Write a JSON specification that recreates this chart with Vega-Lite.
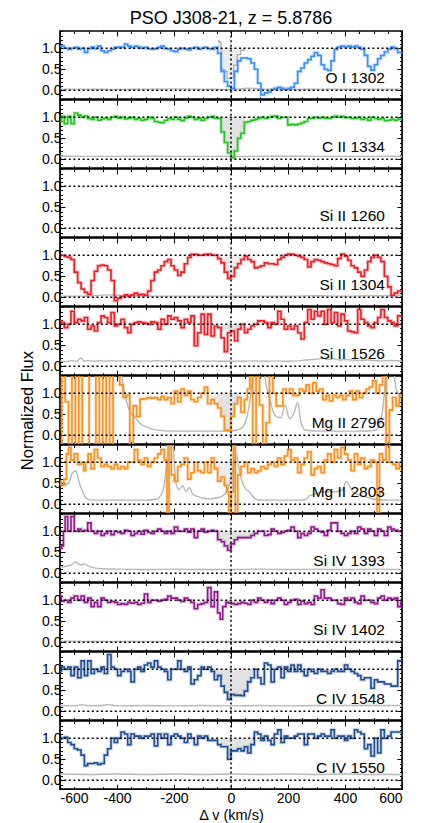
{
"$schema":"https://vega.github.io/schema/vega-lite/v6.json",
"padding":{"left":18,"top":9,"right":4,"bottom":0},
"spacing":0,
"bounds":"flush",
"config":{"font":"Liberation Sans","view":{"stroke":"black","strokeWidth":1.7},
"axis":{"domain":false,"grid":false,"labelFont":"Liberation Sans","labelFontSize":14,"labelColor":"black","tickColor":"black","tickWidth":1,"titleFont":"Liberation Sans","titleFontWeight":"normal","titleColor":"black"}},
"datasets":{
"lv":[{"v":0,"y":0},{"v":0,"y":1}],
"lv0":[{"v":0,"y":0}],
"f1":[{"v":-600,"y":1.05},{"v":-591,"y":1.05},{"v":-579,"y":1.0},{"v":-567,"y":0.97},{"v":-556,"y":1.0},{"v":-544,"y":1.02},{"v":-532,"y":0.98},{"v":-520,"y":1.0},{"v":-509,"y":0.9},{"v":-497,"y":0.99},{"v":-485,"y":1.03},{"v":-474,"y":0.99},{"v":-462,"y":1.05},{"v":-450,"y":0.94},{"v":-439,"y":0.9},{"v":-427,"y":0.94},{"v":-415,"y":0.98},{"v":-404,"y":1.02},{"v":-392,"y":1.03},{"v":-380,"y":1.02},{"v":-368,"y":1.1},{"v":-357,"y":1.05},{"v":-345,"y":1.02},{"v":-333,"y":1.05},{"v":-322,"y":1.03},{"v":-310,"y":1.0},{"v":-298,"y":1.02},{"v":-287,"y":0.99},{"v":-275,"y":0.98},{"v":-263,"y":0.99},{"v":-251,"y":1.02},{"v":-240,"y":1.05},{"v":-228,"y":0.99},{"v":-216,"y":0.98},{"v":-205,"y":0.94},{"v":-193,"y":0.92},{"v":-181,"y":0.98},{"v":-170,"y":1.0},{"v":-158,"y":0.98},{"v":-146,"y":0.96},{"v":-135,"y":1.0},{"v":-123,"y":1.02},{"v":-111,"y":0.98},{"v":-99,"y":1.0},{"v":-88,"y":1.02},{"v":-76,"y":0.99},{"v":-64,"y":0.98},{"v":-53,"y":1.02},{"v":-41,"y":0.88},{"v":-29,"y":0.45},{"v":-18,"y":0.21},{"v":-6,"y":0.1},{"v":6,"y":0.05},{"v":18,"y":0.45},{"v":29,"y":0.7},{"v":41,"y":0.77},{"v":53,"y":0.77},{"v":64,"y":0.75},{"v":76,"y":0.65},{"v":88,"y":0.5},{"v":99,"y":0.17},{"v":111,"y":-0.11},{"v":123,"y":-0.06},{"v":135,"y":-0.04},{"v":146,"y":0.02},{"v":158,"y":0.05},{"v":170,"y":0.07},{"v":181,"y":0.05},{"v":193,"y":0.02},{"v":205,"y":0.05},{"v":216,"y":0.07},{"v":228,"y":0.17},{"v":240,"y":0.45},{"v":251,"y":0.53},{"v":263,"y":0.65},{"v":275,"y":0.73},{"v":287,"y":0.81},{"v":298,"y":0.9},{"v":310,"y":0.83},{"v":322,"y":0.61},{"v":333,"y":0.5},{"v":345,"y":0.47},{"v":357,"y":0.7},{"v":368,"y":0.97},{"v":380,"y":1.03},{"v":392,"y":1.05},{"v":404,"y":1.03},{"v":415,"y":1.05},{"v":427,"y":1.03},{"v":439,"y":1.05},{"v":450,"y":1.02},{"v":462,"y":0.98},{"v":474,"y":0.83},{"v":485,"y":0.57},{"v":497,"y":0.48},{"v":509,"y":0.61},{"v":520,"y":0.75},{"v":532,"y":0.83},{"v":544,"y":0.91},{"v":556,"y":0.98},{"v":567,"y":1.03},{"v":579,"y":0.99},{"v":591,"y":0.9},{"v":600,"y":0.9}],
"s1":[{"v":-46,"y":1.18},{"v":-40,"y":1.15},{"v":-30,"y":0.5},{"v":-20,"y":0.45},{"v":-8,"y":0.28},{"v":4,"y":0.3},{"v":16,"y":0.6},{"v":28,"y":0.85},{"v":40,"y":0.95},{"v":52,"y":1.0}],
"e1":[{"v":-600,"y":0.03},{"v":-500,"y":0.03},{"v":-400,"y":0.02},{"v":-300,"y":0.03},{"v":-200,"y":0.035},{"v":-100,"y":0.03},{"v":0,"y":0.02},{"v":60,"y":0.05},{"v":120,"y":0.03},{"v":200,"y":0.02},{"v":300,"y":0.03},{"v":400,"y":0.03},{"v":500,"y":0.03},{"v":600,"y":0.03}],
"f2":[{"v":-600,"y":0.9},{"v":-591,"y":1.02},{"v":-579,"y":0.85},{"v":-567,"y":1.02},{"v":-556,"y":0.85},{"v":-544,"y":1.1},{"v":-532,"y":1.05},{"v":-520,"y":1.0},{"v":-509,"y":1.03},{"v":-497,"y":0.97},{"v":-485,"y":0.95},{"v":-474,"y":1.0},{"v":-462,"y":0.93},{"v":-450,"y":0.96},{"v":-439,"y":0.98},{"v":-427,"y":0.95},{"v":-415,"y":1.0},{"v":-404,"y":1.02},{"v":-392,"y":0.98},{"v":-380,"y":1.0},{"v":-368,"y":0.96},{"v":-357,"y":0.98},{"v":-345,"y":1.0},{"v":-333,"y":0.95},{"v":-322,"y":0.97},{"v":-310,"y":0.93},{"v":-298,"y":0.95},{"v":-287,"y":1.0},{"v":-275,"y":0.97},{"v":-263,"y":0.9},{"v":-251,"y":0.88},{"v":-240,"y":0.87},{"v":-228,"y":0.93},{"v":-216,"y":0.97},{"v":-205,"y":0.95},{"v":-193,"y":1.0},{"v":-181,"y":0.95},{"v":-170,"y":0.92},{"v":-158,"y":0.98},{"v":-146,"y":1.02},{"v":-135,"y":1.0},{"v":-123,"y":0.95},{"v":-111,"y":0.98},{"v":-99,"y":0.93},{"v":-88,"y":0.97},{"v":-76,"y":1.0},{"v":-64,"y":1.02},{"v":-53,"y":0.98},{"v":-41,"y":0.97},{"v":-29,"y":0.65},{"v":-18,"y":0.4},{"v":-6,"y":0.15},{"v":6,"y":0.04},{"v":18,"y":0.2},{"v":29,"y":0.5},{"v":41,"y":0.62},{"v":53,"y":0.88},{"v":64,"y":0.9},{"v":76,"y":0.93},{"v":88,"y":0.95},{"v":99,"y":0.97},{"v":111,"y":1.0},{"v":123,"y":0.97},{"v":135,"y":1.0},{"v":146,"y":1.02},{"v":158,"y":1.03},{"v":170,"y":0.97},{"v":181,"y":1.0},{"v":193,"y":1.0},{"v":205,"y":0.82},{"v":216,"y":0.83},{"v":228,"y":0.82},{"v":240,"y":0.84},{"v":251,"y":0.87},{"v":263,"y":0.9},{"v":275,"y":0.97},{"v":287,"y":0.98},{"v":298,"y":1.0},{"v":310,"y":0.98},{"v":322,"y":1.0},{"v":333,"y":0.98},{"v":345,"y":0.97},{"v":357,"y":1.0},{"v":368,"y":1.03},{"v":380,"y":1.0},{"v":392,"y":1.02},{"v":404,"y":0.99},{"v":415,"y":1.0},{"v":427,"y":0.97},{"v":439,"y":0.98},{"v":450,"y":1.0},{"v":462,"y":0.95},{"v":474,"y":0.97},{"v":485,"y":0.93},{"v":497,"y":1.0},{"v":509,"y":0.97},{"v":520,"y":0.95},{"v":532,"y":0.97},{"v":544,"y":0.92},{"v":556,"y":0.93},{"v":567,"y":0.95},{"v":579,"y":0.93},{"v":591,"y":0.96},{"v":600,"y":0.96}],
"s2":[{"v":-47,"y":0.97},{"v":-41,"y":0.97},{"v":-29,"y":0.65},{"v":-18,"y":0.4},{"v":-6,"y":0.15},{"v":6,"y":0.04},{"v":18,"y":0.2},{"v":29,"y":0.5},{"v":41,"y":0.62},{"v":50,"y":0.62}],
"e2":[{"v":-600,"y":0.08},{"v":-500,"y":0.07},{"v":-400,"y":0.07},{"v":-300,"y":0.075},{"v":-200,"y":0.07},{"v":-100,"y":0.07},{"v":0,"y":0.07},{"v":100,"y":0.07},{"v":200,"y":0.075},{"v":300,"y":0.07},{"v":400,"y":0.07},{"v":500,"y":0.07},{"v":600,"y":0.075}],
"f4":[{"v":-600,"y":1.0},{"v":-591,"y":1.0},{"v":-579,"y":0.97},{"v":-567,"y":0.95},{"v":-556,"y":0.9},{"v":-544,"y":0.6},{"v":-532,"y":0.35},{"v":-520,"y":0.2},{"v":-509,"y":0.12},{"v":-497,"y":0.07},{"v":-485,"y":0.4},{"v":-474,"y":0.62},{"v":-462,"y":0.75},{"v":-450,"y":0.77},{"v":-439,"y":0.75},{"v":-427,"y":0.65},{"v":-415,"y":0.4},{"v":-404,"y":-0.08},{"v":-392,"y":-0.02},{"v":-380,"y":0.02},{"v":-368,"y":0.06},{"v":-357,"y":0.03},{"v":-345,"y":0.06},{"v":-333,"y":0.1},{"v":-322,"y":0.06},{"v":-310,"y":0.07},{"v":-298,"y":0.05},{"v":-287,"y":0.15},{"v":-275,"y":0.4},{"v":-263,"y":0.6},{"v":-251,"y":0.65},{"v":-240,"y":0.75},{"v":-228,"y":0.85},{"v":-216,"y":0.9},{"v":-205,"y":0.75},{"v":-193,"y":0.65},{"v":-181,"y":0.52},{"v":-170,"y":0.6},{"v":-158,"y":0.8},{"v":-146,"y":0.95},{"v":-135,"y":1.02},{"v":-123,"y":1.02},{"v":-111,"y":1.0},{"v":-99,"y":1.0},{"v":-88,"y":1.02},{"v":-76,"y":1.03},{"v":-64,"y":1.0},{"v":-53,"y":1.0},{"v":-41,"y":0.92},{"v":-29,"y":0.82},{"v":-18,"y":0.6},{"v":-6,"y":0.45},{"v":6,"y":0.5},{"v":18,"y":0.7},{"v":29,"y":0.8},{"v":41,"y":0.9},{"v":53,"y":0.98},{"v":64,"y":0.9},{"v":76,"y":0.85},{"v":88,"y":0.7},{"v":99,"y":0.72},{"v":111,"y":0.75},{"v":123,"y":0.82},{"v":135,"y":0.8},{"v":146,"y":0.8},{"v":158,"y":0.78},{"v":170,"y":0.9},{"v":181,"y":0.95},{"v":193,"y":1.0},{"v":205,"y":1.03},{"v":216,"y":1.02},{"v":228,"y":1.0},{"v":240,"y":0.98},{"v":251,"y":0.95},{"v":263,"y":0.9},{"v":275,"y":0.72},{"v":287,"y":0.85},{"v":298,"y":0.9},{"v":310,"y":0.88},{"v":322,"y":0.85},{"v":333,"y":0.82},{"v":345,"y":0.8},{"v":357,"y":0.78},{"v":368,"y":0.75},{"v":380,"y":0.92},{"v":392,"y":1.03},{"v":404,"y":0.98},{"v":415,"y":0.88},{"v":427,"y":0.75},{"v":439,"y":0.7},{"v":450,"y":0.6},{"v":462,"y":0.5},{"v":474,"y":0.65},{"v":485,"y":0.85},{"v":497,"y":0.95},{"v":509,"y":1.0},{"v":520,"y":0.95},{"v":532,"y":0.85},{"v":544,"y":0.5},{"v":556,"y":0.25},{"v":567,"y":0.05},{"v":579,"y":0.1},{"v":591,"y":0.15},{"v":600,"y":0.15}],
"s4":[{"v":-24,"y":0.75},{"v":-18,"y":0.6},{"v":-6,"y":0.45},{"v":6,"y":0.5},{"v":18,"y":0.7},{"v":29,"y":0.8},{"v":41,"y":0.9},{"v":47,"y":0.9}],
"e4":[{"v":-600,"y":0.03},{"v":-500,"y":0.03},{"v":-460,"y":0.05},{"v":-420,"y":0.06},{"v":-380,"y":0.04},{"v":-300,"y":0.03},{"v":-200,"y":0.03},{"v":-100,"y":0.03},{"v":0,"y":0.03},{"v":100,"y":0.03},{"v":200,"y":0.03},{"v":300,"y":0.04},{"v":400,"y":0.03},{"v":500,"y":0.04},{"v":600,"y":0.04}],
"f5":[{"v":-600,"y":1.08},{"v":-591,"y":1.04},{"v":-579,"y":0.92},{"v":-567,"y":1.0},{"v":-556,"y":1.31},{"v":-544,"y":1.04},{"v":-532,"y":1.12},{"v":-520,"y":1.08},{"v":-509,"y":1.16},{"v":-497,"y":0.88},{"v":-485,"y":0.96},{"v":-474,"y":0.84},{"v":-462,"y":1.04},{"v":-450,"y":1.2},{"v":-439,"y":1.16},{"v":-427,"y":1.04},{"v":-415,"y":1.28},{"v":-404,"y":0.96},{"v":-392,"y":1.0},{"v":-380,"y":1.12},{"v":-368,"y":0.92},{"v":-357,"y":0.8},{"v":-345,"y":1.0},{"v":-333,"y":1.04},{"v":-322,"y":1.06},{"v":-310,"y":1.04},{"v":-298,"y":1.02},{"v":-287,"y":1.0},{"v":-275,"y":1.06},{"v":-263,"y":1.04},{"v":-251,"y":0.88},{"v":-240,"y":1.12},{"v":-228,"y":1.0},{"v":-216,"y":1.2},{"v":-205,"y":1.12},{"v":-193,"y":1.16},{"v":-181,"y":1.08},{"v":-170,"y":0.92},{"v":-158,"y":1.12},{"v":-146,"y":1.04},{"v":-135,"y":1.2},{"v":-123,"y":0.49},{"v":-111,"y":0.8},{"v":-99,"y":1.24},{"v":-88,"y":0.76},{"v":-76,"y":1.24},{"v":-64,"y":0.72},{"v":-53,"y":0.96},{"v":-41,"y":0.92},{"v":-29,"y":0.68},{"v":-18,"y":0.35},{"v":-6,"y":0.8},{"v":6,"y":0.84},{"v":18,"y":0.61},{"v":29,"y":0.88},{"v":41,"y":1.0},{"v":53,"y":0.8},{"v":64,"y":0.88},{"v":76,"y":0.96},{"v":88,"y":1.0},{"v":99,"y":1.08},{"v":111,"y":1.08},{"v":123,"y":1.04},{"v":135,"y":0.92},{"v":146,"y":1.04},{"v":158,"y":1.0},{"v":170,"y":1.31},{"v":181,"y":1.12},{"v":193,"y":0.88},{"v":205,"y":0.96},{"v":216,"y":0.88},{"v":228,"y":0.96},{"v":240,"y":0.8},{"v":251,"y":0.65},{"v":263,"y":1.04},{"v":275,"y":1.35},{"v":287,"y":1.12},{"v":298,"y":1.31},{"v":310,"y":1.2},{"v":322,"y":1.31},{"v":333,"y":1.0},{"v":345,"y":1.35},{"v":357,"y":1.04},{"v":368,"y":1.28},{"v":380,"y":0.96},{"v":392,"y":1.24},{"v":404,"y":1.08},{"v":415,"y":0.84},{"v":427,"y":0.82},{"v":439,"y":0.8},{"v":450,"y":1.35},{"v":462,"y":1.12},{"v":474,"y":1.04},{"v":485,"y":0.96},{"v":497,"y":0.92},{"v":509,"y":1.04},{"v":520,"y":1.16},{"v":532,"y":1.35},{"v":544,"y":1.16},{"v":556,"y":1.08},{"v":567,"y":1.04},{"v":579,"y":0.96},{"v":591,"y":1.2},{"v":600,"y":1.2}],
"s5":[{"v":-35,"y":0.85},{"v":-29,"y":0.85},{"v":-18,"y":0.85},{"v":-6,"y":0.82},{"v":6,"y":0.82},{"v":18,"y":0.85},{"v":29,"y":0.88},{"v":35,"y":0.88}],
"e5":[{"v":-600,"y":0.13},{"v":-580,"y":0.11},{"v":-560,"y":0.14},{"v":-540,"y":0.12},{"v":-527,"y":0.2},{"v":-515,"y":0.12},{"v":-500,"y":0.14},{"v":-480,"y":0.12},{"v":-460,"y":0.14},{"v":-440,"y":0.12},{"v":-420,"y":0.14},{"v":-400,"y":0.12},{"v":-380,"y":0.14},{"v":-360,"y":0.12},{"v":-340,"y":0.14},{"v":-320,"y":0.12},{"v":-300,"y":0.13},{"v":-280,"y":0.12},{"v":-260,"y":0.14},{"v":-240,"y":0.12},{"v":-220,"y":0.14},{"v":-200,"y":0.12},{"v":-180,"y":0.13},{"v":-160,"y":0.12},{"v":-140,"y":0.13},{"v":-120,"y":0.12},{"v":-100,"y":0.13},{"v":-80,"y":0.12},{"v":-60,"y":0.13},{"v":-40,"y":0.12},{"v":0,"y":0.12},{"v":40,"y":0.12},{"v":80,"y":0.13},{"v":120,"y":0.12},{"v":160,"y":0.13},{"v":200,"y":0.12},{"v":240,"y":0.13},{"v":260,"y":0.15},{"v":280,"y":0.16},{"v":300,"y":0.17},{"v":320,"y":0.19},{"v":340,"y":0.16},{"v":360,"y":0.18},{"v":380,"y":0.15},{"v":400,"y":0.16},{"v":440,"y":0.14},{"v":480,"y":0.15},{"v":520,"y":0.13},{"v":560,"y":0.14},{"v":600,"y":0.13}],
"f6":[{"v":-600,"y":-0.3},{"v":-588,"y":1.6},{"v":-576,"y":0.8},{"v":-564,"y":-0.3},{"v":-552,"y":1.6},{"v":-540,"y":-0.3},{"v":-528,"y":1.6},{"v":-516,"y":-0.3},{"v":-504,"y":-0.3},{"v":-492,"y":1.6},{"v":-480,"y":1.6},{"v":-468,"y":-0.3},{"v":-456,"y":1.6},{"v":-444,"y":-0.3},{"v":-432,"y":1.6},{"v":-420,"y":-0.3},{"v":-408,"y":1.6},{"v":-396,"y":1.6},{"v":-385,"y":1.2},{"v":-373,"y":0.9},{"v":-361,"y":0.95},{"v":-349,"y":-0.3},{"v":-337,"y":0.7},{"v":-325,"y":0.45},{"v":-314,"y":0.86},{"v":-300,"y":0.87},{"v":-287,"y":0.9},{"v":-275,"y":0.88},{"v":-263,"y":0.9},{"v":-251,"y":0.85},{"v":-240,"y":0.92},{"v":-228,"y":0.85},{"v":-216,"y":0.9},{"v":-205,"y":0.75},{"v":-193,"y":1.05},{"v":-181,"y":0.8},{"v":-170,"y":1.1},{"v":-158,"y":0.95},{"v":-146,"y":1.05},{"v":-135,"y":0.85},{"v":-123,"y":0.8},{"v":-111,"y":0.9},{"v":-99,"y":1.0},{"v":-88,"y":1.15},{"v":-76,"y":0.75},{"v":-64,"y":0.85},{"v":-53,"y":0.75},{"v":-41,"y":0.65},{"v":-29,"y":0.45},{"v":-18,"y":0.12},{"v":-6,"y":0.12},{"v":6,"y":0.45},{"v":18,"y":0.75},{"v":29,"y":0.9},{"v":41,"y":0.55},{"v":53,"y":0.85},{"v":62,"y":1.1},{"v":70,"y":1.6},{"v":82,"y":-0.3},{"v":94,"y":1.6},{"v":106,"y":0.72},{"v":117,"y":-0.3},{"v":129,"y":0.3},{"v":141,"y":1.6},{"v":153,"y":1.0},{"v":164,"y":0.7},{"v":176,"y":0.7},{"v":188,"y":1.1},{"v":199,"y":1.0},{"v":211,"y":1.1},{"v":223,"y":0.95},{"v":234,"y":0.95},{"v":246,"y":1.1},{"v":258,"y":1.05},{"v":269,"y":1.2},{"v":281,"y":1.0},{"v":293,"y":1.25},{"v":305,"y":1.05},{"v":316,"y":1.1},{"v":328,"y":0.85},{"v":340,"y":0.95},{"v":351,"y":0.82},{"v":363,"y":0.95},{"v":375,"y":0.9},{"v":386,"y":0.95},{"v":398,"y":0.85},{"v":410,"y":0.95},{"v":421,"y":1.05},{"v":433,"y":0.85},{"v":445,"y":1.05},{"v":456,"y":0.9},{"v":468,"y":1.0},{"v":480,"y":1.1},{"v":491,"y":1.15},{"v":503,"y":1.3},{"v":515,"y":1.0},{"v":526,"y":1.2},{"v":538,"y":1.6},{"v":550,"y":-0.3},{"v":561,"y":0.6},{"v":573,"y":0.9},{"v":585,"y":0.7},{"v":596,"y":0.95},{"v":600,"y":0.95}],
"s6":[{"v":-58,"y":0.85},{"v":-53,"y":0.85},{"v":-41,"y":0.7},{"v":-29,"y":0.45},{"v":-18,"y":0.12},{"v":-6,"y":0.12},{"v":6,"y":0.45},{"v":18,"y":0.72},{"v":29,"y":0.85},{"v":35,"y":0.85}],
"e6":[{"v":-600,"y":2},{"v":-420,"y":2},{"v":-392,"y":1.8},{"v":-380,"y":1.25},{"v":-368,"y":0.84},{"v":-357,"y":0.6},{"v":-339,"y":0.45},{"v":-322,"y":0.3},{"v":-298,"y":0.2},{"v":-263,"y":0.13},{"v":-205,"y":0.1},{"v":-100,"y":0.1},{"v":-29,"y":0.1},{"v":18,"y":0.12},{"v":41,"y":0.2},{"v":58,"y":0.5},{"v":70,"y":1.0},{"v":80,"y":1.8},{"v":111,"y":1.8},{"v":123,"y":1.2},{"v":135,"y":0.9},{"v":146,"y":0.6},{"v":158,"y":0.45},{"v":175,"y":0.42},{"v":190,"y":0.72},{"v":205,"y":0.4},{"v":222,"y":0.55},{"v":234,"y":0.78},{"v":246,"y":0.3},{"v":263,"y":0.12},{"v":322,"y":0.1},{"v":450,"y":0.1},{"v":509,"y":0.12},{"v":520,"y":0.25},{"v":530,"y":0.5},{"v":538,"y":1.0},{"v":546,"y":1.8},{"v":567,"y":1.8},{"v":579,"y":1.1},{"v":600,"y":0.9}],
"f7":[{"v":-600,"y":0.55},{"v":-591,"y":0.45},{"v":-582,"y":0.6},{"v":-573,"y":1.2},{"v":-567,"y":1.35},{"v":-556,"y":1.05},{"v":-544,"y":1.2},{"v":-532,"y":0.95},{"v":-520,"y":1.0},{"v":-514,"y":0.8},{"v":-506,"y":1.0},{"v":-497,"y":1.2},{"v":-485,"y":0.85},{"v":-474,"y":1.3},{"v":-462,"y":1.1},{"v":-450,"y":0.9},{"v":-439,"y":0.95},{"v":-427,"y":0.9},{"v":-415,"y":0.85},{"v":-404,"y":0.95},{"v":-392,"y":0.85},{"v":-380,"y":0.9},{"v":-368,"y":0.85},{"v":-357,"y":1.0},{"v":-345,"y":1.0},{"v":-333,"y":1.3},{"v":-322,"y":1.05},{"v":-310,"y":0.95},{"v":-298,"y":1.1},{"v":-287,"y":0.9},{"v":-275,"y":1.0},{"v":-263,"y":1.1},{"v":-251,"y":1.2},{"v":-240,"y":1.3},{"v":-228,"y":1.05},{"v":-221,"y":-0.4},{"v":-214,"y":1.5},{"v":-205,"y":0.7},{"v":-193,"y":0.55},{"v":-181,"y":0.9},{"v":-170,"y":0.95},{"v":-158,"y":1.1},{"v":-146,"y":0.6},{"v":-135,"y":0.75},{"v":-123,"y":1.0},{"v":-111,"y":0.8},{"v":-99,"y":0.75},{"v":-88,"y":1.0},{"v":-76,"y":0.75},{"v":-64,"y":1.1},{"v":-53,"y":0.85},{"v":-41,"y":0.55},{"v":-29,"y":0.65},{"v":-18,"y":0.45},{"v":-12,"y":0.3},{"v":-4,"y":-0.4},{"v":5,"y":0.3},{"v":12,"y":1.6},{"v":18,"y":-0.4},{"v":29,"y":0.7},{"v":41,"y":0.9},{"v":53,"y":1.0},{"v":64,"y":0.75},{"v":76,"y":0.85},{"v":88,"y":0.75},{"v":99,"y":0.8},{"v":111,"y":0.9},{"v":123,"y":0.85},{"v":135,"y":0.95},{"v":146,"y":1.0},{"v":158,"y":0.9},{"v":170,"y":1.1},{"v":181,"y":0.95},{"v":193,"y":1.15},{"v":205,"y":1.3},{"v":216,"y":1.05},{"v":228,"y":1.1},{"v":240,"y":0.75},{"v":251,"y":0.95},{"v":263,"y":1.1},{"v":275,"y":1.25},{"v":287,"y":0.7},{"v":298,"y":0.85},{"v":310,"y":0.9},{"v":322,"y":0.75},{"v":333,"y":1.05},{"v":345,"y":1.2},{"v":357,"y":1.0},{"v":368,"y":1.3},{"v":380,"y":1.1},{"v":392,"y":1.35},{"v":404,"y":1.2},{"v":415,"y":1.05},{"v":427,"y":0.8},{"v":439,"y":1.2},{"v":450,"y":0.95},{"v":462,"y":1.1},{"v":474,"y":0.85},{"v":485,"y":0.9},{"v":497,"y":1.05},{"v":509,"y":1.0},{"v":516,"y":-0.4},{"v":526,"y":1.2},{"v":538,"y":1.05},{"v":550,"y":1.5},{"v":561,"y":1.0},{"v":573,"y":0.95},{"v":585,"y":0.85},{"v":596,"y":1.0},{"v":600,"y":1.0}],
"s7":[{"v":-64,"y":0.95},{"v":-53,"y":0.85},{"v":-41,"y":0.55},{"v":-29,"y":0.6},{"v":-18,"y":0.45},{"v":-6,"y":0.2},{"v":6,"y":0.05},{"v":10,"y":0.05}],
"e7":[{"v":-600,"y":0.5},{"v":-585,"y":0.45},{"v":-570,"y":0.5},{"v":-556,"y":0.75},{"v":-544,"y":0.8},{"v":-532,"y":0.5},{"v":-520,"y":0.3},{"v":-509,"y":0.15},{"v":-490,"y":0.1},{"v":-300,"y":0.1},{"v":-263,"y":0.12},{"v":-240,"y":0.3},{"v":-228,"y":0.8},{"v":-217,"y":1.6},{"v":-205,"y":1.6},{"v":-199,"y":1.0},{"v":-193,"y":0.5},{"v":-181,"y":0.35},{"v":-170,"y":0.45},{"v":-158,"y":0.3},{"v":-146,"y":0.4},{"v":-135,"y":0.25},{"v":-123,"y":0.2},{"v":-99,"y":0.15},{"v":-76,"y":0.13},{"v":-53,"y":0.15},{"v":-29,"y":0.2},{"v":-12,"y":0.35},{"v":6,"y":0.8},{"v":18,"y":1.2},{"v":29,"y":0.8},{"v":41,"y":0.5},{"v":53,"y":0.35},{"v":64,"y":0.3},{"v":76,"y":0.2},{"v":88,"y":0.12},{"v":111,"y":0.1},{"v":240,"y":0.1},{"v":263,"y":0.12},{"v":275,"y":0.2},{"v":298,"y":0.25},{"v":322,"y":0.3},{"v":345,"y":0.3},{"v":368,"y":0.3},{"v":392,"y":0.35},{"v":404,"y":0.55},{"v":415,"y":0.45},{"v":427,"y":0.3},{"v":439,"y":0.25},{"v":462,"y":0.2},{"v":485,"y":0.15},{"v":509,"y":0.12},{"v":550,"y":0.1},{"v":600,"y":0.1}],
"f8":[{"v":-600,"y":0.6},{"v":-591,"y":0.65},{"v":-585,"y":1.0},{"v":-579,"y":1.35},{"v":-567,"y":1.0},{"v":-556,"y":1.35},{"v":-544,"y":1.0},{"v":-532,"y":1.05},{"v":-520,"y":1.0},{"v":-509,"y":1.02},{"v":-497,"y":1.2},{"v":-485,"y":1.0},{"v":-474,"y":0.95},{"v":-462,"y":1.0},{"v":-450,"y":0.9},{"v":-439,"y":0.95},{"v":-427,"y":1.0},{"v":-415,"y":0.92},{"v":-404,"y":1.0},{"v":-392,"y":0.97},{"v":-380,"y":0.95},{"v":-368,"y":1.02},{"v":-357,"y":1.0},{"v":-345,"y":0.9},{"v":-333,"y":0.95},{"v":-322,"y":1.0},{"v":-310,"y":0.93},{"v":-298,"y":1.02},{"v":-287,"y":0.97},{"v":-275,"y":0.95},{"v":-263,"y":1.0},{"v":-251,"y":1.05},{"v":-240,"y":1.0},{"v":-228,"y":0.95},{"v":-216,"y":1.0},{"v":-205,"y":0.95},{"v":-193,"y":1.1},{"v":-181,"y":1.0},{"v":-170,"y":1.0},{"v":-158,"y":1.05},{"v":-146,"y":0.98},{"v":-135,"y":1.05},{"v":-123,"y":0.85},{"v":-111,"y":1.0},{"v":-99,"y":1.05},{"v":-88,"y":0.98},{"v":-76,"y":1.0},{"v":-64,"y":1.02},{"v":-53,"y":1.0},{"v":-41,"y":0.8},{"v":-29,"y":0.75},{"v":-18,"y":0.65},{"v":-6,"y":0.55},{"v":6,"y":0.7},{"v":18,"y":0.8},{"v":29,"y":0.85},{"v":41,"y":0.85},{"v":53,"y":0.85},{"v":64,"y":0.85},{"v":76,"y":0.9},{"v":88,"y":0.95},{"v":99,"y":1.0},{"v":111,"y":1.0},{"v":123,"y":0.9},{"v":135,"y":0.92},{"v":146,"y":1.05},{"v":158,"y":1.0},{"v":170,"y":0.95},{"v":181,"y":0.97},{"v":193,"y":1.0},{"v":205,"y":1.02},{"v":216,"y":1.1},{"v":228,"y":1.0},{"v":240,"y":0.85},{"v":251,"y":0.95},{"v":263,"y":0.9},{"v":275,"y":0.95},{"v":287,"y":1.1},{"v":298,"y":1.05},{"v":310,"y":1.0},{"v":322,"y":0.98},{"v":333,"y":0.9},{"v":345,"y":1.02},{"v":357,"y":1.2},{"v":368,"y":1.2},{"v":380,"y":1.0},{"v":392,"y":0.95},{"v":404,"y":0.9},{"v":415,"y":0.95},{"v":427,"y":1.0},{"v":439,"y":0.95},{"v":450,"y":1.1},{"v":462,"y":1.05},{"v":474,"y":0.95},{"v":485,"y":1.05},{"v":497,"y":1.0},{"v":509,"y":0.9},{"v":520,"y":1.05},{"v":532,"y":1.0},{"v":544,"y":0.9},{"v":556,"y":1.1},{"v":567,"y":1.05},{"v":579,"y":1.02},{"v":591,"y":1.0},{"v":600,"y":1.0}],
"s8":[{"v":-46,"y":0.8},{"v":-41,"y":0.8},{"v":-29,"y":0.75},{"v":-18,"y":0.65},{"v":-6,"y":0.58},{"v":6,"y":0.72},{"v":18,"y":0.82},{"v":29,"y":0.85},{"v":41,"y":0.85},{"v":53,"y":0.87},{"v":64,"y":0.87},{"v":76,"y":0.9},{"v":80,"y":0.9}],
"e8":[{"v":-600,"y":0.15},{"v":-580,"y":0.17},{"v":-560,"y":0.2},{"v":-545,"y":0.27},{"v":-535,"y":0.22},{"v":-525,"y":0.2},{"v":-515,"y":0.23},{"v":-500,"y":0.17},{"v":-480,"y":0.13},{"v":-450,"y":0.11},{"v":-400,"y":0.1},{"v":-300,"y":0.09},{"v":-200,"y":0.1},{"v":-100,"y":0.09},{"v":0,"y":0.09},{"v":100,"y":0.1},{"v":200,"y":0.09},{"v":300,"y":0.1},{"v":400,"y":0.09},{"v":500,"y":0.1},{"v":600,"y":0.09}],
"f9":[{"v":-600,"y":1.1},{"v":-591,"y":0.98},{"v":-579,"y":1.0},{"v":-567,"y":0.95},{"v":-556,"y":1.05},{"v":-544,"y":1.1},{"v":-532,"y":1.0},{"v":-520,"y":1.1},{"v":-509,"y":0.95},{"v":-497,"y":1.05},{"v":-485,"y":0.85},{"v":-474,"y":0.95},{"v":-462,"y":0.85},{"v":-450,"y":1.05},{"v":-439,"y":1.0},{"v":-427,"y":0.95},{"v":-415,"y":0.97},{"v":-404,"y":0.95},{"v":-392,"y":0.9},{"v":-380,"y":0.92},{"v":-368,"y":0.9},{"v":-357,"y":0.95},{"v":-345,"y":0.93},{"v":-333,"y":0.95},{"v":-322,"y":0.9},{"v":-310,"y":0.93},{"v":-298,"y":1.15},{"v":-287,"y":0.95},{"v":-275,"y":1.0},{"v":-263,"y":1.0},{"v":-251,"y":0.98},{"v":-240,"y":1.0},{"v":-228,"y":1.02},{"v":-216,"y":1.1},{"v":-205,"y":1.05},{"v":-193,"y":1.05},{"v":-181,"y":1.0},{"v":-170,"y":0.97},{"v":-158,"y":1.05},{"v":-146,"y":1.0},{"v":-135,"y":0.95},{"v":-123,"y":0.8},{"v":-111,"y":0.9},{"v":-99,"y":0.92},{"v":-88,"y":0.95},{"v":-76,"y":1.3},{"v":-64,"y":0.85},{"v":-53,"y":1.2},{"v":-41,"y":0.7},{"v":-35,"y":0.55},{"v":-23,"y":0.85},{"v":-12,"y":0.95},{"v":-6,"y":0.93},{"v":6,"y":0.92},{"v":18,"y":0.9},{"v":29,"y":0.92},{"v":41,"y":0.95},{"v":53,"y":0.93},{"v":64,"y":0.9},{"v":76,"y":1.0},{"v":88,"y":0.95},{"v":99,"y":1.05},{"v":111,"y":1.0},{"v":123,"y":0.95},{"v":135,"y":1.0},{"v":146,"y":0.92},{"v":158,"y":1.0},{"v":170,"y":1.05},{"v":181,"y":1.0},{"v":193,"y":0.9},{"v":205,"y":0.95},{"v":216,"y":1.0},{"v":228,"y":1.02},{"v":240,"y":0.9},{"v":251,"y":0.98},{"v":263,"y":0.92},{"v":275,"y":0.95},{"v":287,"y":0.9},{"v":298,"y":1.1},{"v":310,"y":1.05},{"v":322,"y":1.25},{"v":333,"y":1.05},{"v":345,"y":1.05},{"v":357,"y":1.0},{"v":368,"y":1.0},{"v":380,"y":0.92},{"v":392,"y":0.9},{"v":404,"y":1.05},{"v":415,"y":1.0},{"v":427,"y":1.05},{"v":439,"y":0.95},{"v":450,"y":0.92},{"v":462,"y":1.1},{"v":474,"y":1.0},{"v":485,"y":1.0},{"v":497,"y":0.95},{"v":509,"y":0.92},{"v":520,"y":1.05},{"v":532,"y":1.1},{"v":544,"y":1.0},{"v":556,"y":1.05},{"v":567,"y":1.02},{"v":579,"y":1.05},{"v":591,"y":0.85},{"v":600,"y":0.95}],
"s9":[{"v":-23,"y":0.93},{"v":-12,"y":0.93},{"v":0,"y":0.93},{"v":12,"y":0.93},{"v":24,"y":0.93},{"v":36,"y":0.95},{"v":41,"y":0.95}],
"e9":[{"v":-600,"y":0.03},{"v":-400,"y":0.02},{"v":-200,"y":0.02},{"v":0,"y":0.02},{"v":200,"y":0.03},{"v":400,"y":0.03},{"v":600,"y":0.03}],
"f10":[{"v":-600,"y":0.95},{"v":-591,"y":1.05},{"v":-579,"y":1.0},{"v":-567,"y":1.05},{"v":-556,"y":0.85},{"v":-544,"y":1.05},{"v":-532,"y":0.8},{"v":-520,"y":1.2},{"v":-509,"y":0.85},{"v":-497,"y":1.2},{"v":-485,"y":0.9},{"v":-474,"y":1.0},{"v":-462,"y":0.95},{"v":-450,"y":1.05},{"v":-439,"y":0.9},{"v":-427,"y":1.35},{"v":-415,"y":1.05},{"v":-404,"y":1.0},{"v":-392,"y":0.85},{"v":-380,"y":0.95},{"v":-368,"y":1.0},{"v":-357,"y":0.95},{"v":-345,"y":0.7},{"v":-333,"y":1.0},{"v":-322,"y":1.05},{"v":-310,"y":0.95},{"v":-298,"y":1.1},{"v":-287,"y":1.15},{"v":-275,"y":1.05},{"v":-263,"y":1.2},{"v":-251,"y":1.05},{"v":-240,"y":1.0},{"v":-228,"y":0.95},{"v":-216,"y":0.75},{"v":-205,"y":1.0},{"v":-193,"y":1.0},{"v":-181,"y":1.2},{"v":-170,"y":1.0},{"v":-158,"y":0.95},{"v":-146,"y":1.05},{"v":-135,"y":0.65},{"v":-123,"y":0.75},{"v":-111,"y":0.85},{"v":-99,"y":1.05},{"v":-88,"y":1.0},{"v":-76,"y":1.05},{"v":-64,"y":0.95},{"v":-53,"y":0.75},{"v":-41,"y":0.85},{"v":-29,"y":0.6},{"v":-18,"y":0.45},{"v":-6,"y":0.28},{"v":6,"y":0.4},{"v":18,"y":0.38},{"v":29,"y":0.38},{"v":41,"y":0.37},{"v":53,"y":0.48},{"v":64,"y":0.7},{"v":76,"y":0.8},{"v":88,"y":1.0},{"v":99,"y":0.8},{"v":111,"y":0.65},{"v":123,"y":1.15},{"v":135,"y":1.1},{"v":146,"y":0.7},{"v":158,"y":1.0},{"v":170,"y":1.05},{"v":181,"y":0.8},{"v":193,"y":1.05},{"v":205,"y":0.95},{"v":216,"y":1.1},{"v":228,"y":0.95},{"v":240,"y":1.1},{"v":251,"y":0.95},{"v":263,"y":0.85},{"v":275,"y":1.0},{"v":287,"y":0.95},{"v":298,"y":0.9},{"v":310,"y":1.0},{"v":322,"y":0.95},{"v":333,"y":0.95},{"v":345,"y":0.9},{"v":357,"y":0.95},{"v":368,"y":1.0},{"v":380,"y":0.95},{"v":392,"y":0.95},{"v":404,"y":1.1},{"v":415,"y":1.0},{"v":427,"y":0.95},{"v":439,"y":0.9},{"v":450,"y":0.85},{"v":462,"y":0.75},{"v":474,"y":0.8},{"v":485,"y":0.8},{"v":497,"y":0.55},{"v":509,"y":0.75},{"v":520,"y":0.7},{"v":532,"y":0.7},{"v":544,"y":0.65},{"v":556,"y":0.65},{"v":567,"y":0.6},{"v":579,"y":0.6},{"v":591,"y":1.2},{"v":600,"y":1.2}],
"s10":[{"v":-58,"y":0.85},{"v":-46,"y":0.85},{"v":-35,"y":0.75},{"v":-23,"y":0.6},{"v":-12,"y":0.45},{"v":-6,"y":0.3},{"v":6,"y":0.38},{"v":18,"y":0.38},{"v":29,"y":0.37},{"v":41,"y":0.37},{"v":53,"y":0.5},{"v":64,"y":0.7},{"v":76,"y":0.85}],
"e10":[{"v":-600,"y":0.14},{"v":-550,"y":0.13},{"v":-520,"y":0.16},{"v":-500,"y":0.13},{"v":-450,"y":0.14},{"v":-430,"y":0.16},{"v":-400,"y":0.13},{"v":-300,"y":0.14},{"v":-200,"y":0.13},{"v":-100,"y":0.14},{"v":0,"y":0.13},{"v":100,"y":0.14},{"v":200,"y":0.13},{"v":300,"y":0.14},{"v":400,"y":0.14},{"v":500,"y":0.14},{"v":600,"y":0.14}],
"f11":[{"v":-600,"y":0.98},{"v":-591,"y":1.0},{"v":-579,"y":1.02},{"v":-567,"y":0.9},{"v":-556,"y":0.85},{"v":-544,"y":0.75},{"v":-532,"y":0.72},{"v":-520,"y":0.6},{"v":-509,"y":0.35},{"v":-497,"y":0.4},{"v":-485,"y":0.4},{"v":-474,"y":0.42},{"v":-462,"y":0.38},{"v":-450,"y":0.4},{"v":-439,"y":0.6},{"v":-427,"y":0.75},{"v":-415,"y":1.0},{"v":-404,"y":0.9},{"v":-392,"y":1.0},{"v":-380,"y":1.15},{"v":-368,"y":1.1},{"v":-357,"y":0.85},{"v":-345,"y":1.1},{"v":-333,"y":1.05},{"v":-322,"y":1.05},{"v":-310,"y":1.0},{"v":-298,"y":1.05},{"v":-287,"y":1.05},{"v":-275,"y":1.1},{"v":-263,"y":0.82},{"v":-251,"y":1.1},{"v":-240,"y":1.0},{"v":-228,"y":1.1},{"v":-216,"y":0.85},{"v":-205,"y":1.05},{"v":-193,"y":1.1},{"v":-181,"y":1.05},{"v":-170,"y":1.0},{"v":-158,"y":0.9},{"v":-146,"y":1.1},{"v":-135,"y":1.0},{"v":-123,"y":0.85},{"v":-111,"y":1.05},{"v":-99,"y":1.0},{"v":-88,"y":1.05},{"v":-76,"y":0.95},{"v":-64,"y":0.95},{"v":-53,"y":0.95},{"v":-41,"y":0.85},{"v":-29,"y":0.8},{"v":-18,"y":0.8},{"v":-6,"y":0.5},{"v":6,"y":0.7},{"v":18,"y":0.7},{"v":29,"y":0.75},{"v":41,"y":0.7},{"v":53,"y":0.8},{"v":64,"y":0.65},{"v":76,"y":0.85},{"v":88,"y":1.15},{"v":99,"y":1.1},{"v":111,"y":0.95},{"v":123,"y":1.05},{"v":135,"y":0.95},{"v":146,"y":0.85},{"v":158,"y":1.1},{"v":170,"y":1.2},{"v":181,"y":0.9},{"v":193,"y":1.05},{"v":205,"y":1.0},{"v":216,"y":1.0},{"v":228,"y":1.05},{"v":240,"y":1.1},{"v":251,"y":1.1},{"v":263,"y":0.85},{"v":275,"y":1.1},{"v":287,"y":1.1},{"v":298,"y":1.0},{"v":310,"y":1.05},{"v":322,"y":1.1},{"v":333,"y":1.05},{"v":345,"y":1.05},{"v":357,"y":1.2},{"v":368,"y":1.0},{"v":380,"y":1.05},{"v":392,"y":1.05},{"v":404,"y":0.95},{"v":415,"y":1.05},{"v":427,"y":1.0},{"v":439,"y":1.2},{"v":450,"y":1.15},{"v":462,"y":1.1},{"v":474,"y":0.75},{"v":485,"y":0.85},{"v":497,"y":0.58},{"v":509,"y":1.0},{"v":520,"y":0.65},{"v":532,"y":1.2},{"v":544,"y":1.0},{"v":556,"y":1.05},{"v":567,"y":1.15},{"v":579,"y":1.15},{"v":591,"y":1.15},{"v":600,"y":1.15}],
"s11":[{"v":-35,"y":0.85},{"v":-29,"y":0.8},{"v":-18,"y":0.8},{"v":-6,"y":0.55},{"v":6,"y":0.7},{"v":18,"y":0.7},{"v":29,"y":0.75},{"v":41,"y":0.7},{"v":53,"y":0.8},{"v":64,"y":0.68},{"v":76,"y":0.85}],
"e11":[{"v":-600,"y":0.15},{"v":-500,"y":0.14},{"v":-400,"y":0.15},{"v":-300,"y":0.14},{"v":-200,"y":0.15},{"v":-100,"y":0.14},{"v":0,"y":0.15},{"v":100,"y":0.14},{"v":200,"y":0.15},{"v":300,"y":0.14},{"v":400,"y":0.15},{"v":500,"y":0.14},{"v":600,"y":0.14}]
},
"vconcat":[
{"width":342,"height":68.2,"title":{"text":"PSO J308-21, z = 5.8786","anchor":"middle","frame":"group","fontSize":18,"fontWeight":"normal","font":"Liberation Sans","color":"black","offset":2},"resolve":{"axis":{"x":"independent","y":"independent"}},"layer":[
{"data":{"name":"s1"},"mark":{"type":"area","interpolate":"step","color":"#e2e2e2","line":{"color":"#a8a8a8","strokeWidth":1.2}},"encoding":{"x":{"field":"v","type":"quantitative","scale":{"domain":[-600,600],"nice":false},"axis":null},"y":{"field":"y","type":"quantitative","scale":{"domain":[-0.21,1.41],"nice":false,"zero":false},"axis":null},"y2":{"datum":1}}},
{"data":{"name":"e1"},"mark":{"type":"line","color":"#b8b8b8","strokeWidth":1.4,"interpolate":"monotone","clip":true},"encoding":{"x":{"field":"v","type":"quantitative","axis":null},"y":{"field":"y","type":"quantitative","axis":null}}},
{"data":{"name":"f1"},"mark":{"type":"line","color":"#3a8ef6","strokeWidth":3.6,"opacity":0.22,"interpolate":"step","clip":true},"encoding":{"x":{"field":"v","type":"quantitative","axis":null},"y":{"field":"y","type":"quantitative","axis":null}}},
{"data":{"name":"f1"},"mark":{"type":"line","color":"#3a8ef6","strokeWidth":1.6,"interpolate":"step","clip":true},"encoding":{"x":{"field":"v","type":"quantitative","axis":null},"y":{"field":"y","type":"quantitative","axis":null}}},
{"data":{"name":"lv"},"mark":{"type":"rule","color":"black","strokeWidth":1.5,"strokeDash":[2,2.6]},"encoding":{"y":{"field":"y","type":"quantitative","axis":{"orient":"left","values":[0,0.5,1],"format":".1f","tickSize":-5,"labelPadding":4,"title":null}}}},
{"data":{"name":"lv0"},"mark":{"type":"rule","color":"black","strokeWidth":1.5,"strokeDash":[2,2.6]},"encoding":{"x":{"field":"v","type":"quantitative","axis":{"orient":"bottom","values":[-600,-400,-200,0,200,400,600],"tickSize":-5,"labels":false,"title":null}}}},
{"data":{"name":"lv0"},"mark":{"type":"point","opacity":0},"encoding":{"x":{"field":"v","type":"quantitative","axis":{"orient":"top","values":[-600,-400,-200,0,200,400,600],"tickSize":-5,"labels":false,"title":null}},"y":{"field":"y","type":"quantitative","axis":{"orient":"right","values":[0,0.5,1],"tickSize":-5,"labels":false,"title":null}}}},
{"data":{"name":"lv0"},"mark":{"type":"point","opacity":0},"encoding":{"x":{"field":"v","type":"quantitative","axis":{"orient":"bottom","values":[-550,-500,-450,-350,-300,-250,-150,-100,-50,50,100,150,250,300,350,450,500,550],"tickSize":-2.5,"labels":false,"title":null}},"y":{"field":"y","type":"quantitative","axis":{"orient":"left","values":[-0.2,-0.1,0.1,0.2,0.3,0.4,0.6,0.7,0.8,0.9,1.1,1.2,1.3,1.4],"tickSize":-2.5,"labels":false,"title":null}}}},
{"data":{"name":"lv0"},"mark":{"type":"point","opacity":0},"encoding":{"x":{"field":"v","type":"quantitative","axis":{"orient":"top","values":[-550,-500,-450,-350,-300,-250,-150,-100,-50,50,100,150,250,300,350,450,500,550],"tickSize":-2.5,"labels":false,"title":null}},"y":{"field":"y","type":"quantitative","axis":{"orient":"right","values":[-0.2,-0.1,0.1,0.2,0.3,0.4,0.6,0.7,0.8,0.9,1.1,1.2,1.3,1.4],"tickSize":-2.5,"labels":false,"title":null}}}},
{"data":{"name":"lv0"},"mark":{"type":"text","align":"right","baseline":"middle","fontSize":15.5,"font":"Liberation Sans","color":"black"},"encoding":{"x":{"datum":540,"type":"quantitative","axis":null},"y":{"datum":0.3,"type":"quantitative","axis":null},"text":{"value":"O I 1302"}}}
]},
{"width":342,"height":68.2,"resolve":{"axis":{"x":"independent","y":"independent"}},"layer":[
{"data":{"name":"s2"},"mark":{"type":"area","interpolate":"step","color":"#e2e2e2"},"encoding":{"x":{"field":"v","type":"quantitative","scale":{"domain":[-600,600],"nice":false},"axis":null},"y":{"field":"y","type":"quantitative","scale":{"domain":[-0.21,1.41],"nice":false,"zero":false},"axis":null},"y2":{"datum":1}}},
{"data":{"name":"e2"},"mark":{"type":"line","color":"#b8b8b8","strokeWidth":1.4,"interpolate":"monotone","clip":true},"encoding":{"x":{"field":"v","type":"quantitative","axis":null},"y":{"field":"y","type":"quantitative","axis":null}}},
{"data":{"name":"f2"},"mark":{"type":"line","color":"#22c322","strokeWidth":3.6,"opacity":0.22,"interpolate":"step","clip":true},"encoding":{"x":{"field":"v","type":"quantitative","axis":null},"y":{"field":"y","type":"quantitative","axis":null}}},
{"data":{"name":"f2"},"mark":{"type":"line","color":"#22c322","strokeWidth":1.6,"interpolate":"step","clip":true},"encoding":{"x":{"field":"v","type":"quantitative","axis":null},"y":{"field":"y","type":"quantitative","axis":null}}},
{"data":{"name":"lv"},"mark":{"type":"rule","color":"black","strokeWidth":1.5,"strokeDash":[2,2.6]},"encoding":{"y":{"field":"y","type":"quantitative","axis":{"orient":"left","values":[0,0.5,1],"format":".1f","tickSize":-5,"labelPadding":4,"title":null}}}},
{"data":{"name":"lv0"},"mark":{"type":"rule","color":"black","strokeWidth":1.5,"strokeDash":[2,2.6]},"encoding":{"x":{"field":"v","type":"quantitative","axis":{"orient":"bottom","values":[-600,-400,-200,0,200,400,600],"tickSize":-5,"labels":false,"title":null}}}},
{"data":{"name":"lv0"},"mark":{"type":"point","opacity":0},"encoding":{"x":{"field":"v","type":"quantitative","axis":{"orient":"top","values":[-600,-400,-200,0,200,400,600],"tickSize":-5,"labels":false,"title":null}},"y":{"field":"y","type":"quantitative","axis":{"orient":"right","values":[0,0.5,1],"tickSize":-5,"labels":false,"title":null}}}},
{"data":{"name":"lv0"},"mark":{"type":"point","opacity":0},"encoding":{"x":{"field":"v","type":"quantitative","axis":{"orient":"bottom","values":[-550,-500,-450,-350,-300,-250,-150,-100,-50,50,100,150,250,300,350,450,500,550],"tickSize":-2.5,"labels":false,"title":null}},"y":{"field":"y","type":"quantitative","axis":{"orient":"left","values":[-0.2,-0.1,0.1,0.2,0.3,0.4,0.6,0.7,0.8,0.9,1.1,1.2,1.3,1.4],"tickSize":-2.5,"labels":false,"title":null}}}},
{"data":{"name":"lv0"},"mark":{"type":"point","opacity":0},"encoding":{"x":{"field":"v","type":"quantitative","axis":{"orient":"top","values":[-550,-500,-450,-350,-300,-250,-150,-100,-50,50,100,150,250,300,350,450,500,550],"tickSize":-2.5,"labels":false,"title":null}},"y":{"field":"y","type":"quantitative","axis":{"orient":"right","values":[-0.2,-0.1,0.1,0.2,0.3,0.4,0.6,0.7,0.8,0.9,1.1,1.2,1.3,1.4],"tickSize":-2.5,"labels":false,"title":null}}}},
{"data":{"name":"lv0"},"mark":{"type":"text","align":"right","baseline":"middle","fontSize":15.5,"font":"Liberation Sans","color":"black"},"encoding":{"x":{"datum":540,"type":"quantitative","axis":null},"y":{"datum":0.3,"type":"quantitative","axis":null},"text":{"value":"C II 1334"}}}
]},
{"width":342,"height":68.2,"resolve":{"axis":{"x":"independent","y":"independent"}},"layer":[
{"data":{"name":"lv"},"mark":{"type":"rule","color":"black","strokeWidth":1.5,"strokeDash":[2,2.6]},"encoding":{"y":{"field":"y","type":"quantitative","scale":{"domain":[-0.21,1.41],"nice":false,"zero":false},"axis":{"orient":"left","values":[0,0.5,1],"format":".1f","tickSize":-5,"labelPadding":4,"title":null}}}},
{"data":{"name":"lv0"},"mark":{"type":"rule","color":"black","strokeWidth":1.5,"strokeDash":[2,2.6]},"encoding":{"x":{"field":"v","type":"quantitative","scale":{"domain":[-600,600],"nice":false},"axis":{"orient":"bottom","values":[-600,-400,-200,0,200,400,600],"tickSize":-5,"labels":false,"title":null}}}},
{"data":{"name":"lv0"},"mark":{"type":"point","opacity":0},"encoding":{"x":{"field":"v","type":"quantitative","axis":{"orient":"top","values":[-600,-400,-200,0,200,400,600],"tickSize":-5,"labels":false,"title":null}},"y":{"field":"y","type":"quantitative","axis":{"orient":"right","values":[0,0.5,1],"tickSize":-5,"labels":false,"title":null}}}},
{"data":{"name":"lv0"},"mark":{"type":"point","opacity":0},"encoding":{"x":{"field":"v","type":"quantitative","axis":{"orient":"bottom","values":[-550,-500,-450,-350,-300,-250,-150,-100,-50,50,100,150,250,300,350,450,500,550],"tickSize":-2.5,"labels":false,"title":null}},"y":{"field":"y","type":"quantitative","axis":{"orient":"left","values":[-0.2,-0.1,0.1,0.2,0.3,0.4,0.6,0.7,0.8,0.9,1.1,1.2,1.3,1.4],"tickSize":-2.5,"labels":false,"title":null}}}},
{"data":{"name":"lv0"},"mark":{"type":"point","opacity":0},"encoding":{"x":{"field":"v","type":"quantitative","axis":{"orient":"top","values":[-550,-500,-450,-350,-300,-250,-150,-100,-50,50,100,150,250,300,350,450,500,550],"tickSize":-2.5,"labels":false,"title":null}},"y":{"field":"y","type":"quantitative","axis":{"orient":"right","values":[-0.2,-0.1,0.1,0.2,0.3,0.4,0.6,0.7,0.8,0.9,1.1,1.2,1.3,1.4],"tickSize":-2.5,"labels":false,"title":null}}}},
{"data":{"name":"lv0"},"mark":{"type":"text","align":"right","baseline":"middle","fontSize":15.5,"font":"Liberation Sans","color":"black"},"encoding":{"x":{"datum":540,"type":"quantitative","axis":null},"y":{"datum":0.3,"type":"quantitative","axis":null},"text":{"value":"Si II 1260"}}}
]},
{"width":342,"height":68.2,"resolve":{"axis":{"x":"independent","y":"independent"}},"layer":[
{"data":{"name":"s4"},"mark":{"type":"area","interpolate":"step","color":"#ececec"},"encoding":{"x":{"field":"v","type":"quantitative","scale":{"domain":[-600,600],"nice":false},"axis":null},"y":{"field":"y","type":"quantitative","scale":{"domain":[-0.21,1.41],"nice":false,"zero":false},"axis":null},"y2":{"datum":1}}},
{"data":{"name":"e4"},"mark":{"type":"line","color":"#b8b8b8","strokeWidth":1.4,"interpolate":"monotone","clip":true},"encoding":{"x":{"field":"v","type":"quantitative","axis":null},"y":{"field":"y","type":"quantitative","axis":null}}},
{"data":{"name":"f4"},"mark":{"type":"line","color":"#ee1c24","strokeWidth":3.6,"opacity":0.22,"interpolate":"step","clip":true},"encoding":{"x":{"field":"v","type":"quantitative","axis":null},"y":{"field":"y","type":"quantitative","axis":null}}},
{"data":{"name":"f4"},"mark":{"type":"line","color":"#ee1c24","strokeWidth":1.6,"interpolate":"step","clip":true},"encoding":{"x":{"field":"v","type":"quantitative","axis":null},"y":{"field":"y","type":"quantitative","axis":null}}},
{"data":{"name":"lv"},"mark":{"type":"rule","color":"black","strokeWidth":1.5,"strokeDash":[2,2.6]},"encoding":{"y":{"field":"y","type":"quantitative","axis":{"orient":"left","values":[0,0.5,1],"format":".1f","tickSize":-5,"labelPadding":4,"title":null}}}},
{"data":{"name":"lv0"},"mark":{"type":"rule","color":"black","strokeWidth":1.5,"strokeDash":[2,2.6]},"encoding":{"x":{"field":"v","type":"quantitative","axis":{"orient":"bottom","values":[-600,-400,-200,0,200,400,600],"tickSize":-5,"labels":false,"title":null}}}},
{"data":{"name":"lv0"},"mark":{"type":"point","opacity":0},"encoding":{"x":{"field":"v","type":"quantitative","axis":{"orient":"top","values":[-600,-400,-200,0,200,400,600],"tickSize":-5,"labels":false,"title":null}},"y":{"field":"y","type":"quantitative","axis":{"orient":"right","values":[0,0.5,1],"tickSize":-5,"labels":false,"title":null}}}},
{"data":{"name":"lv0"},"mark":{"type":"point","opacity":0},"encoding":{"x":{"field":"v","type":"quantitative","axis":{"orient":"bottom","values":[-550,-500,-450,-350,-300,-250,-150,-100,-50,50,100,150,250,300,350,450,500,550],"tickSize":-2.5,"labels":false,"title":null}},"y":{"field":"y","type":"quantitative","axis":{"orient":"left","values":[-0.2,-0.1,0.1,0.2,0.3,0.4,0.6,0.7,0.8,0.9,1.1,1.2,1.3,1.4],"tickSize":-2.5,"labels":false,"title":null}}}},
{"data":{"name":"lv0"},"mark":{"type":"point","opacity":0},"encoding":{"x":{"field":"v","type":"quantitative","axis":{"orient":"top","values":[-550,-500,-450,-350,-300,-250,-150,-100,-50,50,100,150,250,300,350,450,500,550],"tickSize":-2.5,"labels":false,"title":null}},"y":{"field":"y","type":"quantitative","axis":{"orient":"right","values":[-0.2,-0.1,0.1,0.2,0.3,0.4,0.6,0.7,0.8,0.9,1.1,1.2,1.3,1.4],"tickSize":-2.5,"labels":false,"title":null}}}},
{"data":{"name":"lv0"},"mark":{"type":"text","align":"right","baseline":"middle","fontSize":15.5,"font":"Liberation Sans","color":"black"},"encoding":{"x":{"datum":540,"type":"quantitative","axis":null},"y":{"datum":0.3,"type":"quantitative","axis":null},"text":{"value":"Si II 1304"}}}
]},
{"width":342,"height":68.2,"resolve":{"axis":{"x":"independent","y":"independent"}},"layer":[
{"data":{"name":"s5"},"mark":{"type":"area","interpolate":"step","color":"#e2e2e2"},"encoding":{"x":{"field":"v","type":"quantitative","scale":{"domain":[-600,600],"nice":false},"axis":null},"y":{"field":"y","type":"quantitative","scale":{"domain":[-0.21,1.41],"nice":false,"zero":false},"axis":null},"y2":{"datum":1}}},
{"data":{"name":"e5"},"mark":{"type":"line","color":"#b8b8b8","strokeWidth":1.4,"interpolate":"monotone","clip":true},"encoding":{"x":{"field":"v","type":"quantitative","axis":null},"y":{"field":"y","type":"quantitative","axis":null}}},
{"data":{"name":"f5"},"mark":{"type":"line","color":"#ee1c24","strokeWidth":3.6,"opacity":0.22,"interpolate":"step","clip":true},"encoding":{"x":{"field":"v","type":"quantitative","axis":null},"y":{"field":"y","type":"quantitative","axis":null}}},
{"data":{"name":"f5"},"mark":{"type":"line","color":"#ee1c24","strokeWidth":1.6,"interpolate":"step","clip":true},"encoding":{"x":{"field":"v","type":"quantitative","axis":null},"y":{"field":"y","type":"quantitative","axis":null}}},
{"data":{"name":"lv"},"mark":{"type":"rule","color":"black","strokeWidth":1.5,"strokeDash":[2,2.6]},"encoding":{"y":{"field":"y","type":"quantitative","axis":{"orient":"left","values":[0,0.5,1],"format":".1f","tickSize":-5,"labelPadding":4,"title":null}}}},
{"data":{"name":"lv0"},"mark":{"type":"rule","color":"black","strokeWidth":1.5,"strokeDash":[2,2.6]},"encoding":{"x":{"field":"v","type":"quantitative","axis":{"orient":"bottom","values":[-600,-400,-200,0,200,400,600],"tickSize":-5,"labels":false,"title":null}}}},
{"data":{"name":"lv0"},"mark":{"type":"point","opacity":0},"encoding":{"x":{"field":"v","type":"quantitative","axis":{"orient":"top","values":[-600,-400,-200,0,200,400,600],"tickSize":-5,"labels":false,"title":null}},"y":{"field":"y","type":"quantitative","axis":{"orient":"right","values":[0,0.5,1],"tickSize":-5,"labels":false,"title":null}}}},
{"data":{"name":"lv0"},"mark":{"type":"point","opacity":0},"encoding":{"x":{"field":"v","type":"quantitative","axis":{"orient":"bottom","values":[-550,-500,-450,-350,-300,-250,-150,-100,-50,50,100,150,250,300,350,450,500,550],"tickSize":-2.5,"labels":false,"title":null}},"y":{"field":"y","type":"quantitative","axis":{"orient":"left","values":[-0.2,-0.1,0.1,0.2,0.3,0.4,0.6,0.7,0.8,0.9,1.1,1.2,1.3,1.4],"tickSize":-2.5,"labels":false,"title":null}}}},
{"data":{"name":"lv0"},"mark":{"type":"point","opacity":0},"encoding":{"x":{"field":"v","type":"quantitative","axis":{"orient":"top","values":[-550,-500,-450,-350,-300,-250,-150,-100,-50,50,100,150,250,300,350,450,500,550],"tickSize":-2.5,"labels":false,"title":null}},"y":{"field":"y","type":"quantitative","axis":{"orient":"right","values":[-0.2,-0.1,0.1,0.2,0.3,0.4,0.6,0.7,0.8,0.9,1.1,1.2,1.3,1.4],"tickSize":-2.5,"labels":false,"title":null}}}},
{"data":{"name":"lv0"},"mark":{"type":"text","align":"right","baseline":"middle","fontSize":15.5,"font":"Liberation Sans","color":"black"},"encoding":{"x":{"datum":540,"type":"quantitative","axis":null},"y":{"datum":0.3,"type":"quantitative","axis":null},"text":{"value":"Si II 1526"}}}
]},
{"width":342,"height":68.2,"resolve":{"axis":{"x":"independent","y":"independent"}},"layer":[
{"data":{"name":"s6"},"mark":{"type":"area","interpolate":"step","color":"#e2e2e2"},"encoding":{"x":{"field":"v","type":"quantitative","scale":{"domain":[-600,600],"nice":false},"axis":null},"y":{"field":"y","type":"quantitative","scale":{"domain":[-0.21,1.41],"nice":false,"zero":false},"axis":null},"y2":{"datum":1}}},
{"data":{"name":"e6"},"mark":{"type":"line","color":"#b8b8b8","strokeWidth":1.4,"interpolate":"monotone","clip":true},"encoding":{"x":{"field":"v","type":"quantitative","axis":null},"y":{"field":"y","type":"quantitative","axis":null}}},
{"data":{"name":"f6"},"mark":{"type":"line","color":"#f7901e","strokeWidth":3.6,"opacity":0.22,"interpolate":"step","clip":true},"encoding":{"x":{"field":"v","type":"quantitative","axis":null},"y":{"field":"y","type":"quantitative","axis":null}}},
{"data":{"name":"f6"},"mark":{"type":"line","color":"#f7901e","strokeWidth":1.6,"interpolate":"step","clip":true},"encoding":{"x":{"field":"v","type":"quantitative","axis":null},"y":{"field":"y","type":"quantitative","axis":null}}},
{"data":{"name":"lv"},"mark":{"type":"rule","color":"black","strokeWidth":1.5,"strokeDash":[2,2.6]},"encoding":{"y":{"field":"y","type":"quantitative","axis":{"orient":"left","values":[0,0.5,1],"format":".1f","tickSize":-5,"labelPadding":4,"title":"Normalized Flux","titleFontSize":16.5,"titlePadding":6}}}},
{"data":{"name":"lv0"},"mark":{"type":"rule","color":"black","strokeWidth":1.5,"strokeDash":[2,2.6]},"encoding":{"x":{"field":"v","type":"quantitative","axis":{"orient":"bottom","values":[-600,-400,-200,0,200,400,600],"tickSize":-5,"labels":false,"title":null}}}},
{"data":{"name":"lv0"},"mark":{"type":"point","opacity":0},"encoding":{"x":{"field":"v","type":"quantitative","axis":{"orient":"top","values":[-600,-400,-200,0,200,400,600],"tickSize":-5,"labels":false,"title":null}},"y":{"field":"y","type":"quantitative","axis":{"orient":"right","values":[0,0.5,1],"tickSize":-5,"labels":false,"title":null}}}},
{"data":{"name":"lv0"},"mark":{"type":"point","opacity":0},"encoding":{"x":{"field":"v","type":"quantitative","axis":{"orient":"bottom","values":[-550,-500,-450,-350,-300,-250,-150,-100,-50,50,100,150,250,300,350,450,500,550],"tickSize":-2.5,"labels":false,"title":null}},"y":{"field":"y","type":"quantitative","axis":{"orient":"left","values":[-0.2,-0.1,0.1,0.2,0.3,0.4,0.6,0.7,0.8,0.9,1.1,1.2,1.3,1.4],"tickSize":-2.5,"labels":false,"title":null}}}},
{"data":{"name":"lv0"},"mark":{"type":"point","opacity":0},"encoding":{"x":{"field":"v","type":"quantitative","axis":{"orient":"top","values":[-550,-500,-450,-350,-300,-250,-150,-100,-50,50,100,150,250,300,350,450,500,550],"tickSize":-2.5,"labels":false,"title":null}},"y":{"field":"y","type":"quantitative","axis":{"orient":"right","values":[-0.2,-0.1,0.1,0.2,0.3,0.4,0.6,0.7,0.8,0.9,1.1,1.2,1.3,1.4],"tickSize":-2.5,"labels":false,"title":null}}}},
{"data":{"name":"lv0"},"mark":{"type":"text","align":"right","baseline":"middle","fontSize":15.5,"font":"Liberation Sans","color":"black"},"encoding":{"x":{"datum":540,"type":"quantitative","axis":null},"y":{"datum":0.3,"type":"quantitative","axis":null},"text":{"value":"Mg II 2796"}}}
]},
{"width":342,"height":68.2,"resolve":{"axis":{"x":"independent","y":"independent"}},"layer":[
{"data":{"name":"s7"},"mark":{"type":"area","interpolate":"step","color":"#ececec"},"encoding":{"x":{"field":"v","type":"quantitative","scale":{"domain":[-600,600],"nice":false},"axis":null},"y":{"field":"y","type":"quantitative","scale":{"domain":[-0.21,1.41],"nice":false,"zero":false},"axis":null},"y2":{"datum":1}}},
{"data":{"name":"e7"},"mark":{"type":"line","color":"#b8b8b8","strokeWidth":1.4,"interpolate":"monotone","clip":true},"encoding":{"x":{"field":"v","type":"quantitative","axis":null},"y":{"field":"y","type":"quantitative","axis":null}}},
{"data":{"name":"f7"},"mark":{"type":"line","color":"#f7901e","strokeWidth":3.6,"opacity":0.22,"interpolate":"step","clip":true},"encoding":{"x":{"field":"v","type":"quantitative","axis":null},"y":{"field":"y","type":"quantitative","axis":null}}},
{"data":{"name":"f7"},"mark":{"type":"line","color":"#f7901e","strokeWidth":1.6,"interpolate":"step","clip":true},"encoding":{"x":{"field":"v","type":"quantitative","axis":null},"y":{"field":"y","type":"quantitative","axis":null}}},
{"data":{"name":"lv"},"mark":{"type":"rule","color":"black","strokeWidth":1.5,"strokeDash":[2,2.6]},"encoding":{"y":{"field":"y","type":"quantitative","axis":{"orient":"left","values":[0,0.5,1],"format":".1f","tickSize":-5,"labelPadding":4,"title":null}}}},
{"data":{"name":"lv0"},"mark":{"type":"rule","color":"black","strokeWidth":1.5,"strokeDash":[2,2.6]},"encoding":{"x":{"field":"v","type":"quantitative","axis":{"orient":"bottom","values":[-600,-400,-200,0,200,400,600],"tickSize":-5,"labels":false,"title":null}}}},
{"data":{"name":"lv0"},"mark":{"type":"point","opacity":0},"encoding":{"x":{"field":"v","type":"quantitative","axis":{"orient":"top","values":[-600,-400,-200,0,200,400,600],"tickSize":-5,"labels":false,"title":null}},"y":{"field":"y","type":"quantitative","axis":{"orient":"right","values":[0,0.5,1],"tickSize":-5,"labels":false,"title":null}}}},
{"data":{"name":"lv0"},"mark":{"type":"point","opacity":0},"encoding":{"x":{"field":"v","type":"quantitative","axis":{"orient":"bottom","values":[-550,-500,-450,-350,-300,-250,-150,-100,-50,50,100,150,250,300,350,450,500,550],"tickSize":-2.5,"labels":false,"title":null}},"y":{"field":"y","type":"quantitative","axis":{"orient":"left","values":[-0.2,-0.1,0.1,0.2,0.3,0.4,0.6,0.7,0.8,0.9,1.1,1.2,1.3,1.4],"tickSize":-2.5,"labels":false,"title":null}}}},
{"data":{"name":"lv0"},"mark":{"type":"point","opacity":0},"encoding":{"x":{"field":"v","type":"quantitative","axis":{"orient":"top","values":[-550,-500,-450,-350,-300,-250,-150,-100,-50,50,100,150,250,300,350,450,500,550],"tickSize":-2.5,"labels":false,"title":null}},"y":{"field":"y","type":"quantitative","axis":{"orient":"right","values":[-0.2,-0.1,0.1,0.2,0.3,0.4,0.6,0.7,0.8,0.9,1.1,1.2,1.3,1.4],"tickSize":-2.5,"labels":false,"title":null}}}},
{"data":{"name":"lv0"},"mark":{"type":"text","align":"right","baseline":"middle","fontSize":15.5,"font":"Liberation Sans","color":"black"},"encoding":{"x":{"datum":540,"type":"quantitative","axis":null},"y":{"datum":0.3,"type":"quantitative","axis":null},"text":{"value":"Mg II 2803"}}}
]},
{"width":342,"height":68.2,"resolve":{"axis":{"x":"independent","y":"independent"}},"layer":[
{"data":{"name":"s8"},"mark":{"type":"area","interpolate":"step","color":"#e2e2e2"},"encoding":{"x":{"field":"v","type":"quantitative","scale":{"domain":[-600,600],"nice":false},"axis":null},"y":{"field":"y","type":"quantitative","scale":{"domain":[-0.21,1.41],"nice":false,"zero":false},"axis":null},"y2":{"datum":1}}},
{"data":{"name":"e8"},"mark":{"type":"line","color":"#b8b8b8","strokeWidth":1.4,"interpolate":"monotone","clip":true},"encoding":{"x":{"field":"v","type":"quantitative","axis":null},"y":{"field":"y","type":"quantitative","axis":null}}},
{"data":{"name":"f8"},"mark":{"type":"line","color":"#8e1a8e","strokeWidth":3.6,"opacity":0.22,"interpolate":"step","clip":true},"encoding":{"x":{"field":"v","type":"quantitative","axis":null},"y":{"field":"y","type":"quantitative","axis":null}}},
{"data":{"name":"f8"},"mark":{"type":"line","color":"#8e1a8e","strokeWidth":1.6,"interpolate":"step","clip":true},"encoding":{"x":{"field":"v","type":"quantitative","axis":null},"y":{"field":"y","type":"quantitative","axis":null}}},
{"data":{"name":"lv"},"mark":{"type":"rule","color":"black","strokeWidth":1.5,"strokeDash":[2,2.6]},"encoding":{"y":{"field":"y","type":"quantitative","axis":{"orient":"left","values":[0,0.5,1],"format":".1f","tickSize":-5,"labelPadding":4,"title":null}}}},
{"data":{"name":"lv0"},"mark":{"type":"rule","color":"black","strokeWidth":1.5,"strokeDash":[2,2.6]},"encoding":{"x":{"field":"v","type":"quantitative","axis":{"orient":"bottom","values":[-600,-400,-200,0,200,400,600],"tickSize":-5,"labels":false,"title":null}}}},
{"data":{"name":"lv0"},"mark":{"type":"point","opacity":0},"encoding":{"x":{"field":"v","type":"quantitative","axis":{"orient":"top","values":[-600,-400,-200,0,200,400,600],"tickSize":-5,"labels":false,"title":null}},"y":{"field":"y","type":"quantitative","axis":{"orient":"right","values":[0,0.5,1],"tickSize":-5,"labels":false,"title":null}}}},
{"data":{"name":"lv0"},"mark":{"type":"point","opacity":0},"encoding":{"x":{"field":"v","type":"quantitative","axis":{"orient":"bottom","values":[-550,-500,-450,-350,-300,-250,-150,-100,-50,50,100,150,250,300,350,450,500,550],"tickSize":-2.5,"labels":false,"title":null}},"y":{"field":"y","type":"quantitative","axis":{"orient":"left","values":[-0.2,-0.1,0.1,0.2,0.3,0.4,0.6,0.7,0.8,0.9,1.1,1.2,1.3,1.4],"tickSize":-2.5,"labels":false,"title":null}}}},
{"data":{"name":"lv0"},"mark":{"type":"point","opacity":0},"encoding":{"x":{"field":"v","type":"quantitative","axis":{"orient":"top","values":[-550,-500,-450,-350,-300,-250,-150,-100,-50,50,100,150,250,300,350,450,500,550],"tickSize":-2.5,"labels":false,"title":null}},"y":{"field":"y","type":"quantitative","axis":{"orient":"right","values":[-0.2,-0.1,0.1,0.2,0.3,0.4,0.6,0.7,0.8,0.9,1.1,1.2,1.3,1.4],"tickSize":-2.5,"labels":false,"title":null}}}},
{"data":{"name":"lv0"},"mark":{"type":"text","align":"right","baseline":"middle","fontSize":15.5,"font":"Liberation Sans","color":"black"},"encoding":{"x":{"datum":540,"type":"quantitative","axis":null},"y":{"datum":0.3,"type":"quantitative","axis":null},"text":{"value":"Si IV 1393"}}}
]},
{"width":342,"height":68.2,"resolve":{"axis":{"x":"independent","y":"independent"}},"layer":[
{"data":{"name":"s9"},"mark":{"type":"area","interpolate":"step","color":"#e2e2e2"},"encoding":{"x":{"field":"v","type":"quantitative","scale":{"domain":[-600,600],"nice":false},"axis":null},"y":{"field":"y","type":"quantitative","scale":{"domain":[-0.21,1.41],"nice":false,"zero":false},"axis":null},"y2":{"datum":1}}},
{"data":{"name":"e9"},"mark":{"type":"line","color":"#b8b8b8","strokeWidth":1.4,"interpolate":"monotone","clip":true},"encoding":{"x":{"field":"v","type":"quantitative","axis":null},"y":{"field":"y","type":"quantitative","axis":null}}},
{"data":{"name":"f9"},"mark":{"type":"line","color":"#8e1a8e","strokeWidth":3.6,"opacity":0.22,"interpolate":"step","clip":true},"encoding":{"x":{"field":"v","type":"quantitative","axis":null},"y":{"field":"y","type":"quantitative","axis":null}}},
{"data":{"name":"f9"},"mark":{"type":"line","color":"#8e1a8e","strokeWidth":1.6,"interpolate":"step","clip":true},"encoding":{"x":{"field":"v","type":"quantitative","axis":null},"y":{"field":"y","type":"quantitative","axis":null}}},
{"data":{"name":"lv"},"mark":{"type":"rule","color":"black","strokeWidth":1.5,"strokeDash":[2,2.6]},"encoding":{"y":{"field":"y","type":"quantitative","axis":{"orient":"left","values":[0,0.5,1],"format":".1f","tickSize":-5,"labelPadding":4,"title":null}}}},
{"data":{"name":"lv0"},"mark":{"type":"rule","color":"black","strokeWidth":1.5,"strokeDash":[2,2.6]},"encoding":{"x":{"field":"v","type":"quantitative","axis":{"orient":"bottom","values":[-600,-400,-200,0,200,400,600],"tickSize":-5,"labels":false,"title":null}}}},
{"data":{"name":"lv0"},"mark":{"type":"point","opacity":0},"encoding":{"x":{"field":"v","type":"quantitative","axis":{"orient":"top","values":[-600,-400,-200,0,200,400,600],"tickSize":-5,"labels":false,"title":null}},"y":{"field":"y","type":"quantitative","axis":{"orient":"right","values":[0,0.5,1],"tickSize":-5,"labels":false,"title":null}}}},
{"data":{"name":"lv0"},"mark":{"type":"point","opacity":0},"encoding":{"x":{"field":"v","type":"quantitative","axis":{"orient":"bottom","values":[-550,-500,-450,-350,-300,-250,-150,-100,-50,50,100,150,250,300,350,450,500,550],"tickSize":-2.5,"labels":false,"title":null}},"y":{"field":"y","type":"quantitative","axis":{"orient":"left","values":[-0.2,-0.1,0.1,0.2,0.3,0.4,0.6,0.7,0.8,0.9,1.1,1.2,1.3,1.4],"tickSize":-2.5,"labels":false,"title":null}}}},
{"data":{"name":"lv0"},"mark":{"type":"point","opacity":0},"encoding":{"x":{"field":"v","type":"quantitative","axis":{"orient":"top","values":[-550,-500,-450,-350,-300,-250,-150,-100,-50,50,100,150,250,300,350,450,500,550],"tickSize":-2.5,"labels":false,"title":null}},"y":{"field":"y","type":"quantitative","axis":{"orient":"right","values":[-0.2,-0.1,0.1,0.2,0.3,0.4,0.6,0.7,0.8,0.9,1.1,1.2,1.3,1.4],"tickSize":-2.5,"labels":false,"title":null}}}},
{"data":{"name":"lv0"},"mark":{"type":"text","align":"right","baseline":"middle","fontSize":15.5,"font":"Liberation Sans","color":"black"},"encoding":{"x":{"datum":540,"type":"quantitative","axis":null},"y":{"datum":0.3,"type":"quantitative","axis":null},"text":{"value":"Si IV 1402"}}}
]},
{"width":342,"height":68.2,"resolve":{"axis":{"x":"independent","y":"independent"}},"layer":[
{"data":{"name":"s10"},"mark":{"type":"area","interpolate":"step","color":"#e2e2e2"},"encoding":{"x":{"field":"v","type":"quantitative","scale":{"domain":[-600,600],"nice":false},"axis":null},"y":{"field":"y","type":"quantitative","scale":{"domain":[-0.21,1.41],"nice":false,"zero":false},"axis":null},"y2":{"datum":1}}},
{"data":{"name":"e10"},"mark":{"type":"line","color":"#b8b8b8","strokeWidth":1.4,"interpolate":"monotone","clip":true},"encoding":{"x":{"field":"v","type":"quantitative","axis":null},"y":{"field":"y","type":"quantitative","axis":null}}},
{"data":{"name":"f10"},"mark":{"type":"line","color":"#1f4f92","strokeWidth":3.6,"opacity":0.22,"interpolate":"step","clip":true},"encoding":{"x":{"field":"v","type":"quantitative","axis":null},"y":{"field":"y","type":"quantitative","axis":null}}},
{"data":{"name":"f10"},"mark":{"type":"line","color":"#1f4f92","strokeWidth":1.6,"interpolate":"step","clip":true},"encoding":{"x":{"field":"v","type":"quantitative","axis":null},"y":{"field":"y","type":"quantitative","axis":null}}},
{"data":{"name":"lv"},"mark":{"type":"rule","color":"black","strokeWidth":1.5,"strokeDash":[2,2.6]},"encoding":{"y":{"field":"y","type":"quantitative","axis":{"orient":"left","values":[0,0.5,1],"format":".1f","tickSize":-5,"labelPadding":4,"title":null}}}},
{"data":{"name":"lv0"},"mark":{"type":"rule","color":"black","strokeWidth":1.5,"strokeDash":[2,2.6]},"encoding":{"x":{"field":"v","type":"quantitative","axis":{"orient":"bottom","values":[-600,-400,-200,0,200,400,600],"tickSize":-5,"labels":false,"title":null}}}},
{"data":{"name":"lv0"},"mark":{"type":"point","opacity":0},"encoding":{"x":{"field":"v","type":"quantitative","axis":{"orient":"top","values":[-600,-400,-200,0,200,400,600],"tickSize":-5,"labels":false,"title":null}},"y":{"field":"y","type":"quantitative","axis":{"orient":"right","values":[0,0.5,1],"tickSize":-5,"labels":false,"title":null}}}},
{"data":{"name":"lv0"},"mark":{"type":"point","opacity":0},"encoding":{"x":{"field":"v","type":"quantitative","axis":{"orient":"bottom","values":[-550,-500,-450,-350,-300,-250,-150,-100,-50,50,100,150,250,300,350,450,500,550],"tickSize":-2.5,"labels":false,"title":null}},"y":{"field":"y","type":"quantitative","axis":{"orient":"left","values":[-0.2,-0.1,0.1,0.2,0.3,0.4,0.6,0.7,0.8,0.9,1.1,1.2,1.3,1.4],"tickSize":-2.5,"labels":false,"title":null}}}},
{"data":{"name":"lv0"},"mark":{"type":"point","opacity":0},"encoding":{"x":{"field":"v","type":"quantitative","axis":{"orient":"top","values":[-550,-500,-450,-350,-300,-250,-150,-100,-50,50,100,150,250,300,350,450,500,550],"tickSize":-2.5,"labels":false,"title":null}},"y":{"field":"y","type":"quantitative","axis":{"orient":"right","values":[-0.2,-0.1,0.1,0.2,0.3,0.4,0.6,0.7,0.8,0.9,1.1,1.2,1.3,1.4],"tickSize":-2.5,"labels":false,"title":null}}}},
{"data":{"name":"lv0"},"mark":{"type":"text","align":"right","baseline":"middle","fontSize":15.5,"font":"Liberation Sans","color":"black"},"encoding":{"x":{"datum":540,"type":"quantitative","axis":null},"y":{"datum":0.3,"type":"quantitative","axis":null},"text":{"value":"C IV 1548"}}}
]},
{"width":342,"height":68.2,"resolve":{"axis":{"x":"independent","y":"independent"}},"layer":[
{"data":{"name":"s11"},"mark":{"type":"area","interpolate":"step","color":"#e2e2e2"},"encoding":{"x":{"field":"v","type":"quantitative","scale":{"domain":[-600,600],"nice":false},"axis":null},"y":{"field":"y","type":"quantitative","scale":{"domain":[-0.21,1.41],"nice":false,"zero":false},"axis":null},"y2":{"datum":1}}},
{"data":{"name":"e11"},"mark":{"type":"line","color":"#b8b8b8","strokeWidth":1.4,"interpolate":"monotone","clip":true},"encoding":{"x":{"field":"v","type":"quantitative","axis":null},"y":{"field":"y","type":"quantitative","axis":null}}},
{"data":{"name":"f11"},"mark":{"type":"line","color":"#1f4f92","strokeWidth":3.6,"opacity":0.22,"interpolate":"step","clip":true},"encoding":{"x":{"field":"v","type":"quantitative","axis":null},"y":{"field":"y","type":"quantitative","axis":null}}},
{"data":{"name":"f11"},"mark":{"type":"line","color":"#1f4f92","strokeWidth":1.6,"interpolate":"step","clip":true},"encoding":{"x":{"field":"v","type":"quantitative","axis":null},"y":{"field":"y","type":"quantitative","axis":null}}},
{"data":{"name":"lv"},"mark":{"type":"rule","color":"black","strokeWidth":1.5,"strokeDash":[2,2.6]},"encoding":{"y":{"field":"y","type":"quantitative","axis":{"orient":"left","values":[0,0.5,1],"format":".1f","tickSize":-5,"labelPadding":4,"title":null}}}},
{"data":{"name":"lv0"},"mark":{"type":"rule","color":"black","strokeWidth":1.5,"strokeDash":[2,2.6]},"encoding":{"x":{"field":"v","type":"quantitative","axis":{"orient":"bottom","values":[-600,-400,-200,0,200,400,600],"tickSize":-5,"labelPadding":7,"labelExpr":"'' + datum.value","title":"Δ v (km/s)","titleFontSize":14.5,"titlePadding":3}}}},
{"data":{"name":"lv0"},"mark":{"type":"point","opacity":0},"encoding":{"x":{"field":"v","type":"quantitative","axis":{"orient":"top","values":[-600,-400,-200,0,200,400,600],"tickSize":-5,"labels":false,"title":null}},"y":{"field":"y","type":"quantitative","axis":{"orient":"right","values":[0,0.5,1],"tickSize":-5,"labels":false,"title":null}}}},
{"data":{"name":"lv0"},"mark":{"type":"point","opacity":0},"encoding":{"x":{"field":"v","type":"quantitative","axis":{"orient":"bottom","values":[-550,-500,-450,-350,-300,-250,-150,-100,-50,50,100,150,250,300,350,450,500,550],"tickSize":-2.5,"labels":false,"title":null}},"y":{"field":"y","type":"quantitative","axis":{"orient":"left","values":[-0.2,-0.1,0.1,0.2,0.3,0.4,0.6,0.7,0.8,0.9,1.1,1.2,1.3,1.4],"tickSize":-2.5,"labels":false,"title":null}}}},
{"data":{"name":"lv0"},"mark":{"type":"point","opacity":0},"encoding":{"x":{"field":"v","type":"quantitative","axis":{"orient":"top","values":[-550,-500,-450,-350,-300,-250,-150,-100,-50,50,100,150,250,300,350,450,500,550],"tickSize":-2.5,"labels":false,"title":null}},"y":{"field":"y","type":"quantitative","axis":{"orient":"right","values":[-0.2,-0.1,0.1,0.2,0.3,0.4,0.6,0.7,0.8,0.9,1.1,1.2,1.3,1.4],"tickSize":-2.5,"labels":false,"title":null}}}},
{"data":{"name":"lv0"},"mark":{"type":"text","align":"right","baseline":"middle","fontSize":15.5,"font":"Liberation Sans","color":"black"},"encoding":{"x":{"datum":540,"type":"quantitative","axis":null},"y":{"datum":0.3,"type":"quantitative","axis":null},"text":{"value":"C IV 1550"}}}
]}
]
}
